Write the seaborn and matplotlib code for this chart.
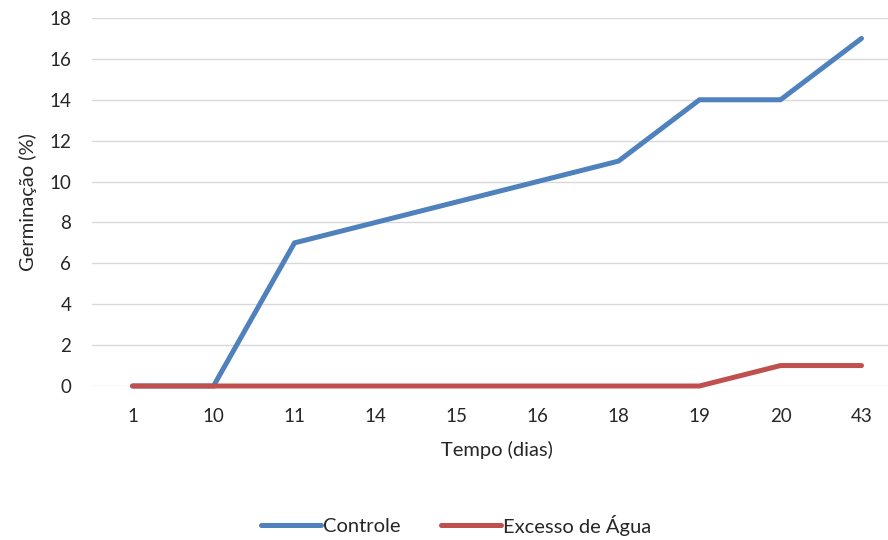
import pandas as pd
import seaborn as sns
import matplotlib.pyplot as plt

# data
dias = ["1", "10", "11", "14", "15", "16", "18", "19", "20", "43"]
controle = [0, 0, 7, 8, 9, 10, 11, 14, 14, 17]
excesso_agua = [0, 0, 0, 0, 0, 0, 0, 0, 1, 1]

df = pd.DataFrame({
    "Tempo": dias * 2,
    "Germinacao": controle + excesso_agua,
    "Serie": ["Controle"] * len(dias) + ["Excesso de Água"] * len(dias),
})

sns.set_theme(style="white")
plt.rcParams["font.family"] = ["Lato", "DejaVu Sans"]

fig = plt.figure(figsize=(8.88, 5.4), dpi=100)
ax = fig.add_axes([92 / 888, 1 - 386 / 540, 810 / 888, 368 / 540])

palette = {"Controle": "#4F81BD", "Excesso de Água": "#C0504D"}
sns.lineplot(data=df, x="Tempo", y="Germinacao", hue="Serie", palette=palette,
             linewidth=3.6, ax=ax, legend=True, sort=False)
for line in ax.lines:
    line.set_solid_capstyle("round")
    line.set_solid_joinstyle("miter")
    line.set_clip_on(False)

ax.set_xlim(-0.5, len(dias) - 0.5)
ax.set_ylim(0, 18)
ax.set_yticks(range(0, 19, 2))
ax.yaxis.grid(True, color="#D9D9D9", linewidth=1.0)
ax.set_axisbelow(True)
for s in ax.spines.values():
    s.set_visible(False)
ax.tick_params(axis="both", length=0, labelsize=13.5, colors="#262626")
ax.tick_params(axis="x", pad=16)
ax.tick_params(axis="y", pad=15)

ax.set_xlabel("Tempo (dias)", fontsize=14.5, color="#262626", labelpad=11)
ax.set_ylabel("Germinação (%)", fontsize=14.5, color="#262626", labelpad=9)

handles, labels = ax.get_legend_handles_labels()
ax.get_legend().remove()
leg = fig.legend(handles, labels, loc="center", bbox_to_anchor=(456 / 888, 1 - 525 / 540),
                 ncol=2, frameon=False, fontsize=14.5, handlelength=3.0,
                 handletextpad=0.1, columnspacing=2.0)
for t in leg.get_texts():
    t.set_color("#262626")

fig.savefig("out.png", dpi=100)
